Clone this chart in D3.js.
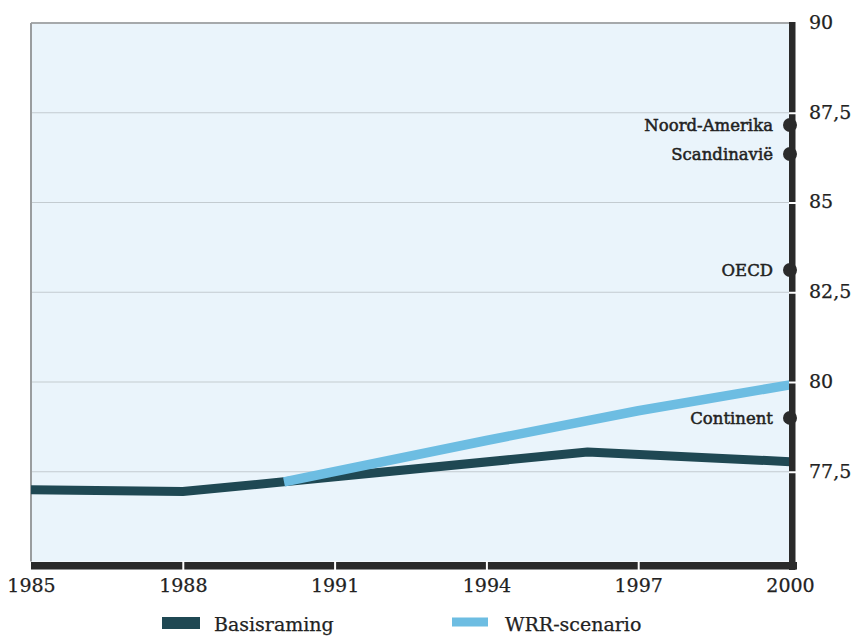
<!DOCTYPE html>
<html>
<head>
<meta charset="utf-8">
<script src="https://cdn.jsdelivr.net/npm/d3@7/dist/d3.min.js"></script>
<style>
  html, body { margin: 0; padding: 0; background: #ffffff; }
  svg { display: block; }
  text { font-family: "DejaVu Serif", "Liberation Serif", serif; fill: #222; }
</style>
</head>
<body>
<svg id="chart" width="853" height="636"></svg>
<script>
// Basisraming: baseline projection
const baseYears  = [1985, 1988, 1990, 1996, 2000];
const baseValues = [77.0, 76.95, 77.22, 78.05, 77.78];

// WRR-scenario: alternative projection from 1990
const wrrYears  = [1990, 1994, 1997, 2000];
const wrrValues = [77.22, 78.37, 79.2, 79.92];

// Reference levels marked on the right axis
const regionNames  = ["Noord-Amerika", "Scandinavië", "OECD", "Continent"];
const regionValues = [87.16, 86.35, 83.12, 79.0];

const xTicks = [1985, 1988, 1991, 1994, 1997, 2000];
const yTicks = [77.5, 80, 82.5, 85, 87.5, 90];

const seriesNames  = ["Basisraming", "WRR-scenario"];
const seriesColors = ["#1f4853", "#6dbde2"];

const svg = d3.select("#chart");

const plotLeft = 31, plotRight = 790, plotTop = 23, plotBottom = 561.5;

const x = d3.scaleLinear().domain([1985, 2000]).range([plotLeft, plotRight]);
const y = d3.scaleLinear().domain([75, 90]).range([plotBottom, plotTop]);

const fmt = d => String(d).replace(".", ",");

// plot background
svg.append("rect")
  .attr("x", plotLeft).attr("y", plotTop)
  .attr("width", plotRight - plotLeft).attr("height", plotBottom - plotTop)
  .attr("fill", "#eaf4fb");

// horizontal grid lines
svg.append("g").selectAll("line")
  .data(yTicks.filter(d => d < 90))
  .join("line")
  .attr("x1", plotLeft).attr("x2", plotRight)
  .attr("y1", d => y(d)).attr("y2", d => y(d))
  .attr("stroke", "#c3cbd0").attr("stroke-width", 1.2);

// top and left frame
svg.append("line")
  .attr("x1", plotLeft).attr("x2", plotRight)
  .attr("y1", y(90)).attr("y2", y(90))
  .attr("stroke", "#a6a9ab").attr("stroke-width", 2);
svg.append("line")
  .attr("x1", plotLeft).attr("x2", plotLeft)
  .attr("y1", y(90)).attr("y2", plotBottom)
  .attr("stroke", "#9a9d9f").attr("stroke-width", 2);

// series lines
const line = d3.line()
  .x(d => x(d[0]))
  .y(d => y(d[1]));

const baseData = baseYears.map((yr, i) => [yr, baseValues[i]]);
const wrrData  = wrrYears.map((yr, i) => [yr, wrrValues[i]]);

svg.append("path")
  .datum(baseData)
  .attr("d", line)
  .attr("fill", "none")
  .attr("stroke", seriesColors[0])
  .attr("stroke-width", 9)
  .attr("stroke-linejoin", "round");

svg.append("path")
  .datum(wrrData)
  .attr("d", line)
  .attr("fill", "none")
  .attr("stroke", seriesColors[1])
  .attr("stroke-width", 9.5)
  .attr("stroke-linejoin", "round");

// region markers on the right axis
const regions = regionNames.map((n, i) => ({ name: n, value: regionValues[i] }));
svg.append("g").selectAll("circle")
  .data(regions)
  .join("circle")
  .attr("cx", 790).attr("cy", d => y(d.value))
  .attr("r", 7)
  .attr("fill", "#2b2b2b");

svg.append("g").selectAll("text")
  .data(regions)
  .join("text")
  .attr("x", 773).attr("y", d => y(d.value))
  .attr("dy", "0.35em")
  .attr("text-anchor", "end")
  .attr("font-size", 16.5)
  .attr("stroke", "#222").attr("stroke-width", 0.5)
  .text(d => d.name);

// thick axis bars
svg.append("rect")
  .attr("x", 789).attr("y", 22)
  .attr("width", 6.5).attr("height", 548)
  .attr("fill", "#2a2a2a");
svg.append("rect")
  .attr("x", plotLeft).attr("y", 562)
  .attr("width", 797 - plotLeft).attr("height", 7.5)
  .attr("fill", "#2a2a2a");

// right value axis
const yAxis = svg.append("g")
  .attr("transform", "translate(789,0)")
  .call(d3.axisRight(y).tickValues(yTicks).tickSize(9).tickPadding(11).tickFormat(fmt));
yAxis.select(".domain").remove();
yAxis.selectAll(".tick line")
  .attr("stroke", "#ffffff").attr("stroke-width", 2)
  .attr("opacity", d => d === 90 ? 0 : 1);
yAxis.selectAll(".tick text")
  .attr("font-family", "DejaVu Serif, serif")
  .attr("font-size", 19)
  .attr("fill", "#222")
  .attr("stroke", "#222").attr("stroke-width", 0.25)
  .attr("dy", "0.28em");

// bottom year axis
const xAxis = svg.append("g")
  .attr("transform", "translate(0,561)")
  .call(d3.axisBottom(x).tickValues(xTicks).tickSize(9).tickPadding(9).tickFormat(d3.format("d")));
xAxis.select(".domain").remove();
xAxis.selectAll(".tick line")
  .attr("stroke", "#ffffff").attr("stroke-width", 2)
  .attr("opacity", d => (d === 1985 || d === 2000) ? 0 : 1);
xAxis.selectAll(".tick text")
  .attr("font-family", "DejaVu Serif, serif")
  .attr("font-size", 19)
  .attr("fill", "#222")
  .attr("stroke", "#222").attr("stroke-width", 0.25);

// legend
const legendX = [162, 452];
const legend = svg.append("g").selectAll("g")
  .data(seriesNames)
  .join("g")
  .attr("transform", (d, i) => `translate(${legendX[i]},0)`);
legend.append("rect")
  .attr("x", 0).attr("y", (d, i) => i === 0 ? 617 : 617.5)
  .attr("width", (d, i) => i === 0 ? 38 : 36)
  .attr("height", (d, i) => i === 0 ? 12 : 9)
  .attr("fill", (d, i) => seriesColors[i]);
legend.append("text")
  .attr("x", (d, i) => i === 0 ? 52 : 53)
  .attr("y", 631)
  .attr("font-size", 19)
  .attr("stroke", "#222").attr("stroke-width", 0.25)
  .text(d => d);
</script>
</body>
</html>
